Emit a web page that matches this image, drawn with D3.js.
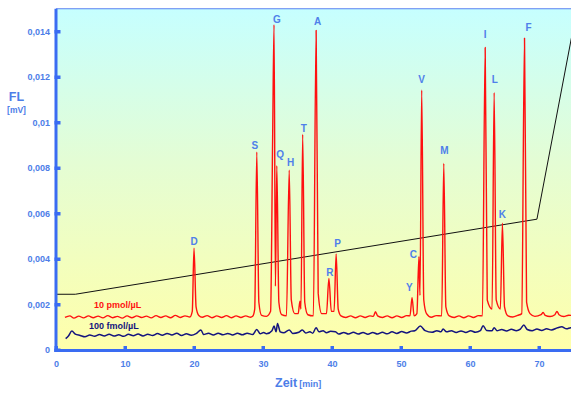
<!DOCTYPE html>
<html>
<head>
<meta charset="utf-8">
<script src="https://cdn.jsdelivr.net/npm/d3@7"></script>
<style>
  html, body { margin: 0; padding: 0; background: #ffffff; }
  svg { display: block; font-family: "Liberation Sans", Arial, sans-serif; }
</style>
</head>
<body>
<svg id="chart" width="571" height="394"></svg>
<script>
// ---------------- DATA ----------------
const xTicks = [0, 10, 20, 30, 40, 50, 60, 70];
const xTickLabels = ["0", "10", "20", "30", "40", "50", "60", "70"];
const yTicks = [0, 0.002, 0.004, 0.006, 0.008, 0.01, 0.012, 0.014];
const yTickLabels = ["0", "0,002", "0,004", "0,006", "0,008", "0,01", "0,012", "0,014"];

// 10 pmol/µL trace  [time (min), signal (mV)]
const trace10pmol = [
  [1.3,0.00143],[2,0.0015],[2.6,0.0014],[3.3,0.00149],[4,0.00141],[4.7,0.0015],[5.4,0.00142],[6.1,0.00149],
  [6.8,0.00141],[7.5,0.00151],[8.2,0.00142],[8.9,0.00148],[9.6,0.0014],[10.3,0.0015],[11,0.00142],[11.7,0.0015],
  [12.4,0.00143],[13.1,0.00149],[13.8,0.00141],[14.5,0.00151],[15.2,0.00143],[15.9,0.0015],[16.6,0.00142],
  [17.3,0.00152],[18,0.00143],[18.7,0.0015],[19.4,0.00145],[19.75,0.0017],[20.0,0.00448],[20.3,0.0019],
  [20.7,0.00152],[21.2,0.00144],[21.9,0.00151],[22.6,0.00142],[23.3,0.0015],[24,0.00143],[24.7,0.00151],
  [25.4,0.00142],[26.1,0.0015],[26.8,0.00143],[27.5,0.0015],[28.2,0.00144],[28.5,0.00148],[28.8,0.0018],
  [29.1,0.0087],[29.4,0.0021],[29.8,0.00152],
  [30.5,0.00148],[31.1,0.0017],[31.4,0.0094],[31.6,0.0143],[31.8,0.0028],[32.0,0.0081],[32.3,0.0021],
  [32.7,0.00155],[33.4,0.0015],[33.8,0.0079],[34.1,0.0022],[34.6,0.0016],[35.1,0.0016],[35.35,0.00215],
  [35.5,0.0018],[35.75,0.00947],[36.05,0.0021],[36.5,0.00155],[37.3,0.0015],[37.7,0.01405],[38.0,0.0025],
  [38.5,0.0016],[39.2,0.0016],[39.55,0.00315],[39.9,0.0017],[40.3,0.0017],[40.6,0.00422],[40.9,0.0018],
  [41.3,0.0015],[42,0.00143],[42.7,0.0015],[43.4,0.00142],[44.1,0.0015],[44.8,0.00143],[45.5,0.0015],
  [46.0,0.00148],[46.3,0.00168],[46.6,0.0015],[47.3,0.00143],[48,0.0015],[48.7,0.00142],[49.4,0.0015],
  [50.1,0.00143],[50.8,0.00151],[51.3,0.0015],[51.6,0.0023],[51.9,0.0015],[52.3,0.0016],[52.6,0.0041],[52.75,0.0024],
  [53.0,0.01143],[53.3,0.0022],[53.7,0.0016],[54.4,0.00144],[55.1,0.00151],[55.9,0.0015],[56.2,0.0082],[56.5,0.0019],
  [57,0.0015],[57.7,0.00143],[58.4,0.0015],[59.1,0.00142],[59.8,0.0015],[60.5,0.00143],[61.2,0.00151],
  [61.8,0.0015],[62.2,0.0133],[62.5,0.0022],[63.2,0.0018],[63.5,0.01132],
  [63.8,0.0022],[64.4,0.0018],[64.7,0.00557],[65.0,0.0019],[65.5,0.0015],[66.2,0.00145],[66.9,0.00152],
  [67.5,0.0016],[67.9,0.01371],[68.2,0.0021],[68.7,0.0016],[69.4,0.00148],[70.3,0.00155],[70.6,0.00165],
  [70.9,0.00152],[71.6,0.00147],[72.3,0.00155],[72.6,0.0017],[72.9,0.00155],[73.6,0.00147],[74.3,0.00153],[75,0.0015]
];

// 100 fmol/µL trace  [time (min), signal (mV)]
const trace100fmol = [
  [1.4,0.0005],[1.8,0.00062],[2.3,0.00083],[2.8,0.0007],[3.5,0.00064],[4.2,0.00058],[4.9,0.00066],[5.6,0.0006],
  [6.3,0.00068],[7,0.00062],[7.7,0.00069],[8.4,0.00061],[9.1,0.00067],[9.8,0.0006],[10.5,0.00069],[11.2,0.00063],
  [11.9,0.0007],[12.6,0.00062],[13.3,0.00069],[14,0.00064],[14.7,0.00072],[15.4,0.00065],[16.1,0.00073],
  [16.8,0.00066],[17.5,0.00074],[18.2,0.00064],[18.9,0.00071],[19.6,0.00065],[20.3,0.00072],[21,0.00088],
  [21.4,0.00068],[22.1,0.00074],[22.8,0.00066],[23.5,0.00074],[24.2,0.00067],[24.9,0.00073],[25.6,0.00066],
  [26.3,0.00074],[27,0.00067],[27.7,0.00074],[28.5,0.00068],[29.1,0.0009],[29.6,0.00071],[30.1,0.00077],[30.5,0.00071],[31.3,0.00085],
  [31.6,0.00105],[31.9,0.0008],[32.1,0.00116],[32.5,0.0008],[33,0.00076],[33.8,0.00088],[34.3,0.00073],
  [35.2,0.00078],[35.7,0.00088],[36.2,0.00075],[36.8,0.0008],[37.2,0.00074],[37.7,0.00098],[38.1,0.0008],[38.7,0.00085],
  [39.2,0.00076],[39.8,0.00082],[40.5,0.0008],[41,0.0007],[41.7,0.00077],[42.4,0.0007],[43.1,0.00078],
  [43.8,0.0007],[44.5,0.00077],[45.2,0.00069],[45.9,0.00077],[46.6,0.0007],[47.3,0.00078],[48,0.00071],
  [48.7,0.0008],[49.4,0.00073],[50.1,0.00081],[50.8,0.00075],[51.5,0.00083],[52,0.00085],[52.8,0.00105],
  [53.5,0.00085],[54.5,0.00078],[55.2,0.00085],[55.8,0.0008],[56.1,0.00092],[56.6,0.0008],[57.3,0.00085],
  [58,0.00077],[58.7,0.00084],[59.4,0.00077],[60.1,0.00085],[60.8,0.00078],[61.5,0.00085],[61.9,0.00107],
  [62.4,0.00086],[63.2,0.00085],[63.5,0.00098],[63.9,0.00085],[64.6,0.0009],[65.3,0.00084],[66,0.00091],
  [66.7,0.00085],[67.3,0.00092],[67.8,0.0011],[68.3,0.0009],[69,0.00085],[69.7,0.00092],[70.4,0.00086],
  [71.1,0.00093],[71.8,0.00088],[72.7,0.00098],[73.3,0.00102],[74,0.00093],[74.6,0.00098],[75,0.00095]
];

// gradient program line
const gradientLine = [[0,0.00245],[2.8,0.00245],[69.7,0.00575],[75,0.0142]];

// peak labels (text anchor at time / signal)
const peakNames  = ["D","S","G","Q","H","T","A","R","P","Y","C","V","M","I","L","K","F"];
const peakTimes  = [20.0,28.8,32.0,32.5,34.0,35.9,37.9,39.7,40.8,51.2,51.8,53.0,56.3,62.2,63.6,64.7,68.5];
const peakLabelY = [0.00462,0.00884,0.01436,0.00845,0.00809,0.0096,0.01429,0.00325,0.00454,0.00261,0.00406,0.01175,0.00862,0.0137,0.01175,0.00579,0.01404];

const seriesNames = ["10 pmol/µL", "100 fmol/µL"];

// ---------------- DRAW ----------------
const svg = d3.select("#chart");
const x = d3.scaleLinear().domain([0, 75]).range([56, 573.5]);
const y = d3.scaleLinear().domain([0, 0.015]).range([350, 8.75]);

const axisColor = "#3a6cf2";
const textColor = "#4d7ee8";

const defs = svg.append("defs");
const grad = defs.append("linearGradient").attr("id", "bg").attr("x1", 0).attr("y1", 0).attr("x2", 0).attr("y2", 1);
grad.append("stop").attr("offset", "0%").attr("stop-color", "#c6ffff");
grad.append("stop").attr("offset", "45%").attr("stop-color", "#e4fdd4");
grad.append("stop").attr("offset", "100%").attr("stop-color", "#ffffaa");

defs.append("clipPath").attr("id", "plotclip").append("rect")
  .attr("x", x(0)).attr("y", y(0.015)).attr("width", 571 - x(0)).attr("height", y(0) - y(0.015));

svg.append("rect")
  .attr("x", x(0)).attr("y", y(0.015))
  .attr("width", 571 - x(0)).attr("height", y(0) - y(0.015))
  .attr("fill", "url(#bg)");

// top border
svg.append("line").attr("x1", x(0)).attr("x2", 571).attr("y1", y(0.015)).attr("y2", y(0.015))
  .attr("stroke", "#5a80f0").attr("stroke-width", 1.2);

const plot = svg.append("g").attr("clip-path", "url(#plotclip)");

const line = d3.line().x(d => x(d[0])).y(d => y(d[1]));

plot.append("path").datum(gradientLine)
  .attr("d", line).attr("fill", "none").attr("stroke", "#111").attr("stroke-width", 1);

plot.append("path").datum(trace100fmol)
  .attr("d", line.curve(d3.curveMonotoneX)).attr("fill", "none")
  .attr("stroke", "#14147e").attr("stroke-width", 1.5).attr("stroke-linejoin", "round");

plot.append("path").datum(trace10pmol)
  .attr("d", line.curve(d3.curveMonotoneX)).attr("fill", "none")
  .attr("stroke", "#ff1010").attr("stroke-width", 1.4).attr("stroke-linejoin", "round");

// peak labels
svg.append("g").selectAll("text").data(peakNames).join("text")
  .attr("x", (d, i) => x(peakTimes[i]))
  .attr("y", (d, i) => y(peakLabelY[i]))
  .attr("text-anchor", "middle")
  .attr("font-size", 10).attr("font-weight", "bold")
  .attr("fill", "#4f80ea")
  .text(d => d);

// series labels
svg.append("text").attr("x", 94).attr("y", 307.8)
  .attr("font-size", 9).attr("font-weight", "bold").attr("fill", "#ff1010").text(seriesNames[0]);
svg.append("text").attr("x", 89).attr("y", 329.3)
  .attr("font-size", 9).attr("font-weight", "bold").attr("fill", "#14147e").text(seriesNames[1]);

// axes
const xAxis = d3.axisBottom(x).tickValues(xTicks).tickFormat((d, i) => xTickLabels[i]).tickSize(0).tickPadding(11);
const gx = svg.append("g").attr("transform", `translate(0,${y(0)})`).call(xAxis);
gx.select(".domain").remove();
gx.selectAll("text").attr("font-size", 9).attr("font-weight", "bold").attr("fill", textColor)
  .attr("font-family", "Liberation Sans, Arial, sans-serif");

const yAxis = d3.axisLeft(y).tickValues(yTicks).tickFormat((d, i) => yTickLabels[i]).tickSize(0).tickPadding(6);
const gy = svg.append("g").attr("transform", `translate(${x(0)},0)`).call(yAxis);
gy.select(".domain").remove();
gy.selectAll("text").attr("font-size", 9).attr("font-weight", "bold").attr("fill", textColor)
  .attr("font-family", "Liberation Sans, Arial, sans-serif");

// axis lines
svg.append("line").attr("x1", x(0)).attr("x2", x(0)).attr("y1", y(0.015)).attr("y2", y(0) + 1.5)
  .attr("stroke", axisColor).attr("stroke-width", 3);
svg.append("line").attr("x1", x(0) - 1.5).attr("x2", 571).attr("y1", y(0) + 0.5).attr("y2", y(0) + 0.5)
  .attr("stroke", axisColor).attr("stroke-width", 3);

// tick squares
svg.append("g").selectAll("rect").data(xTicks).join("rect")
  .attr("x", d => x(d) - 1.5).attr("y", y(0) - 4).attr("width", 3.5).attr("height", 6)
  .attr("fill", axisColor);
svg.append("g").selectAll("rect").data(yTicks).join("rect")
  .attr("x", x(0) - 1.5).attr("y", d => y(d) - 1.5).attr("width", 6).attr("height", 3.5)
  .attr("fill", axisColor);

// axis titles
svg.append("text").attr("x", 16.5).attr("y", 100.5).attr("text-anchor", "middle")
  .attr("font-size", 12.5).attr("font-weight", "bold").attr("fill", textColor).text("FL");
svg.append("text").attr("x", 16.5).attr("y", 112.5).attr("text-anchor", "middle")
  .attr("font-size", 8.5).attr("font-weight", "bold").attr("fill", textColor).text("[mV]");

const xt = svg.append("text").attr("x", 275).attr("y", 386.5)
  .attr("font-weight", "bold").attr("fill", textColor);
xt.append("tspan").attr("font-size", 12.5).text("Zeit");
xt.append("tspan").attr("font-size", 9).attr("dx", 2).text("[min]");
</script>
</body>
</html>
